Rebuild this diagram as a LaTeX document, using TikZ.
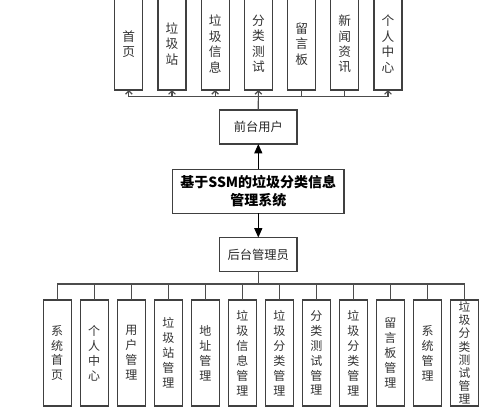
\documentclass[tikz,border=0pt]{standalone}
\usepackage{fontspec}
\setmainfont{Noto Sans CJK SC}
\usetikzlibrary{arrows.meta}

\tikzset{every picture/.style={line width=0.75pt}}
\tikzset{
	item/.style={draw=black!75,line width=1pt,fill=white,inner sep=0pt,outer sep=0pt,minimum width=21pt,align=center,text=black!80,font=\fontsize{9}{11.2}\selectfont},
	upitem/.style={item,minimum height=69pt,font=\fontsize{9.5}{11.6}\selectfont},
	downitem/.style={item,minimum height=79.5pt},
	role/.style={draw=black!75,line width=1pt,fill=white,inner sep=0pt,outer sep=0pt,minimum width=58pt,minimum height=25.5pt,text=black!85,font=\fontsize{9.2}{11}\selectfont},
	sysbox/.style={role,minimum width=128.5pt,minimum height=33pt,align=center,text=black,font=\bfseries\fontsize{10.5}{13.5}\selectfont},
	link/.style={draw=black!70,line width=0.9pt},
	pick/.style={link,-{Straight Barb[length=2.5pt,width=5pt]}},
	flow/.style={draw=black,line width=0.9pt,-{Triangle[length=7pt,width=6pt]}},
}

\begin{document}
\begin{tikzpicture}[x=0.75pt,y=0.75pt,yscale=-1,xscale=1]
	\clip (0,0) rectangle (499,412);

	% centre column
	\node[sysbox] (sys) at (258.3,191.3) {基于SSM的垃圾分类信息\\管理系统};
	\node[role] (front) at (258.3,127) {前台用户};
	\node[role] (back) at (258.3,254.5) {后台管理员};

	% front-end pages
	\foreach \t [count=\i] in {{首\\页},{垃\\圾\\站},{垃\\圾\\信\\息},{分\\类\\测\\试},{留\\言\\板},{新\\闻\\资\\讯},{个\\人\\中\\心}}
		\node[upitem] (top\i) at ({128.8+43.2*(\i-1)},44) {\t};

	% back-end modules
	\foreach \t [count=\i] in {{系\\统\\首\\页},{个\\人\\中\\心},{用\\户\\管\\理},{垃\\圾\\站\\管\\理},{地\\址\\管\\理},{垃\\圾\\信\\息\\管\\理},{垃\\圾\\分\\类\\管\\理},{分\\类\\测\\试\\管\\理},{垃\\圾\\分\\类\\管\\理},{留\\言\\板\\管\\理},{系\\统\\管\\理}}
		\node[downitem] (bot\i) at ({57.2+37.03*(\i-1)},353) {\t};
	\node[downitem,font=\fontsize{8.8}{9.9}\selectfont] (bot12) at ({57.2+37.03*11},353) {垃\\圾\\分\\类\\测\\试\\管\\理};

	\coordinate (tbus) at (258.3,96.7);
	\coordinate (bbus) at (258.3,284);

	% connectors
	\draw[flow] (sys.north) -- (front.south);
	\draw[flow] (sys.south) -- (back.north);
	\draw[pick] (front.north) -- (top4.south);
	\draw[link] (top1.south |- tbus) -- (top7.south |- tbus);
	\foreach \i in {1,2,3,7}
		\draw[pick] (top\i.south |- tbus) -- (top\i.south);
	\foreach \i in {5,6}
		\draw[link] (top\i.south |- tbus) -- (top\i.south);

	\draw[link] (back.south) -- (bbus);
	\draw[link] (bot1.north |- bbus) -- (bot12.north |- bbus);
	\foreach \i in {1,...,12}
		\draw[link] (bot\i.north |- bbus) -- (bot\i.north);

\end{tikzpicture}
\end{document}
